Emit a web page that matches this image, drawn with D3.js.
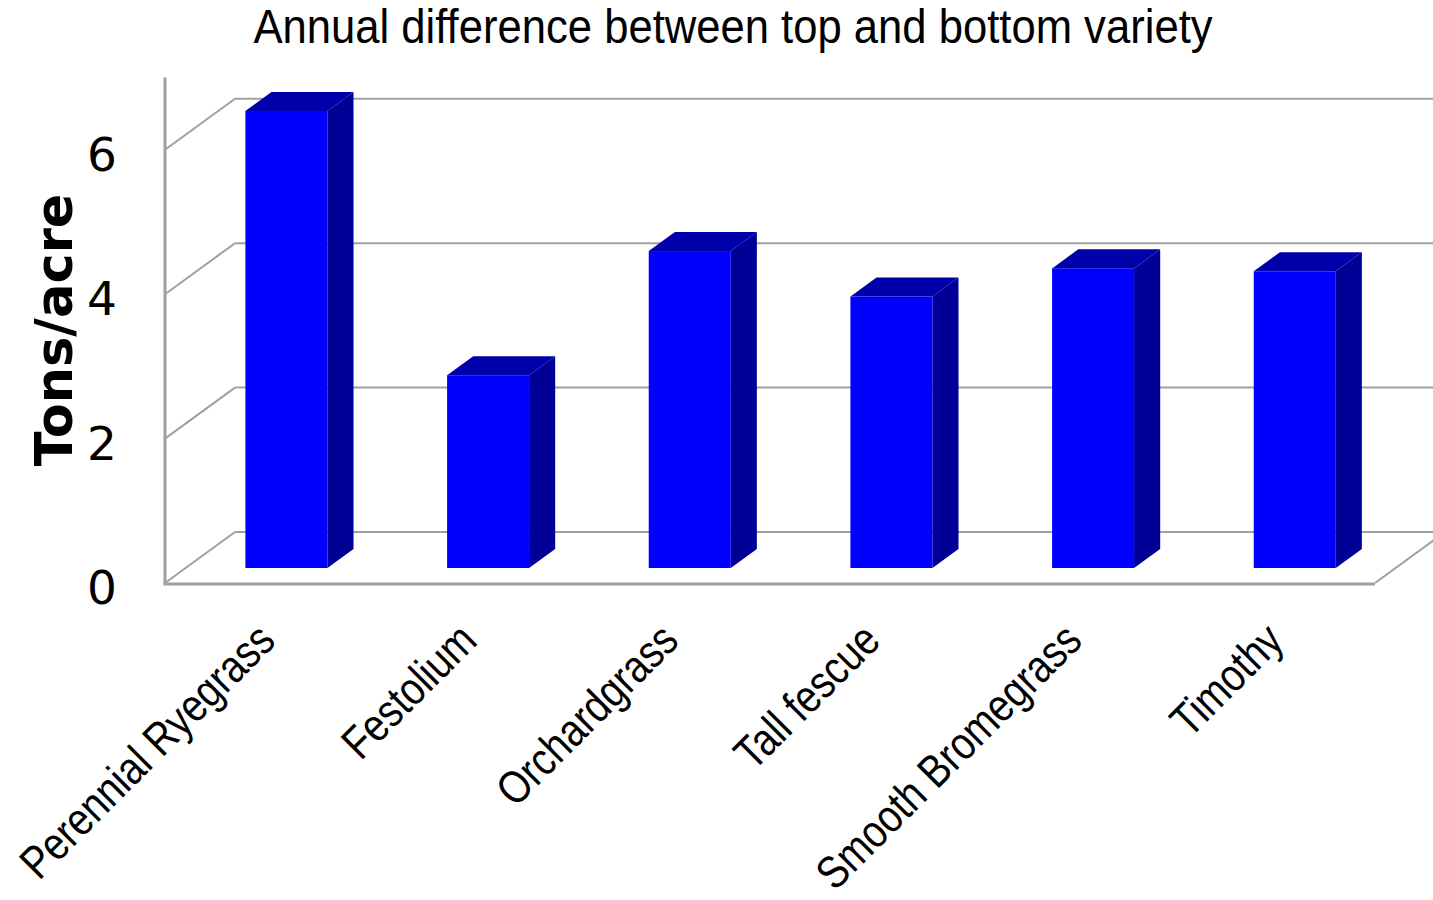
<!DOCTYPE html>
<html>
<head>
<meta charset="utf-8">
<script src="https://cdn.jsdelivr.net/npm/d3@7"></script>
<style>
  html, body { margin: 0; padding: 0; background: #fff; }
  svg { display: block; }
</style>
</head>
<body>
<svg id="chart" width="1433" height="900"></svg>
<script>
// ---- data ----
const categories = ["Perennial Ryegrass", "Festolium", "Orchardgrass", "Tall fescue", "Smooth Bromegrass", "Timothy"];
const values = [6.33, 2.67, 4.39, 3.76, 4.15, 4.11];
const yTicks = [0, 2, 4, 6];
const titleText = "Annual difference between top and bottom variety";
const yTitle = "Tons/acre";

// ---- layout ----
const W = 1433, H = 900;
const frontLeft = 165, frontRight = 1375;
const front0 = 583, frontTop = 77.6;
const depthX = 70, depthY = -51;         // full depth offset of back wall
const barF0 = 0.294, barF1 = 0.667;      // bar depth (fraction of wall depth)
const gridColor = "#a0a0a0";
const frontColor = "#0000ff", topColor = "#0000aa", sideColor = "#000096";

const svg = d3.select("#chart");

const y = d3.scaleLinear().domain([0, 7]).range([front0, frontTop]);
const x = d3.scaleBand().domain(categories).range([frontLeft, frontRight])
  .paddingInner(0.5934).paddingOuter(0.2967).align(0.5);

// back wall gridlines
const g = svg.append("g");
g.selectAll("line.grid").data(yTicks).join("line")
  .attr("class", "grid")
  .attr("x1", frontLeft + depthX).attr("x2", frontRight + depthX)
  .attr("y1", d => y(d) + depthY).attr("y2", d => y(d) + depthY)
  .attr("stroke", gridColor).attr("stroke-width", 2);
// left wall diagonals
g.selectAll("line.diag").data(yTicks).join("line")
  .attr("class", "diag")
  .attr("x1", frontLeft).attr("y1", d => y(d))
  .attr("x2", frontLeft + depthX).attr("y2", d => y(d) + depthY)
  .attr("stroke", gridColor).attr("stroke-width", 2);
// right floor diagonal
g.append("line")
  .attr("x1", frontRight).attr("y1", y(0))
  .attr("x2", frontRight + depthX).attr("y2", y(0) + depthY)
  .attr("stroke", gridColor).attr("stroke-width", 2);

// bars
const sx0 = barF0 * depthX, sy0 = barF0 * depthY;
const bdx = (barF1 - barF0) * depthX, bdy = (barF1 - barF0) * depthY;
const bw = x.bandwidth();
const bars = svg.append("g").selectAll("g").data(categories.map((c, i) => ({c, v: values[i]}))).join("g");
bars.each(function(d) {
  const gg = d3.select(this);
  const x0 = x(d.c) + sx0, x1 = x0 + bw;
  const yt = y(d.v) + sy0, yb = y(0) + sy0;
  gg.append("path")
    .attr("d", `M${x1},${yt} L${x1 + bdx},${yt + bdy} L${x1 + bdx},${yb + bdy} L${x1},${yb} Z`)
    .attr("fill", sideColor);
  gg.append("path")
    .attr("d", `M${x0},${yt} L${x0 + bdx},${yt + bdy} L${x1 + bdx},${yt + bdy} L${x1},${yt} Z`)
    .attr("fill", topColor);
  gg.append("rect")
    .attr("x", x0).attr("y", yt).attr("width", bw).attr("height", yb - yt)
    .attr("fill", frontColor);
});

// front axis lines
svg.append("line")
  .attr("x1", frontLeft).attr("x2", frontLeft)
  .attr("y1", y(7)).attr("y2", y(0) + 2)
  .attr("stroke", gridColor).attr("stroke-width", 3);
svg.append("line")
  .attr("x1", frontLeft - 1.5).attr("x2", frontRight)
  .attr("y1", y(0) + 1).attr("y2", y(0) + 1)
  .attr("stroke", gridColor).attr("stroke-width", 3);

// tick labels
svg.append("g").selectAll("text").data(yTicks).join("text")
  .attr("x", 117).attr("y", d => y(d) + 21)
  .attr("text-anchor", "end")
  .attr("font-family", "DejaVu Sans")
  .attr("font-size", 47)
  .attr("fill", "#000")
  .text(d => d);

// y title
svg.append("text")
  .attr("transform", "translate(72,330) rotate(-90)")
  .attr("text-anchor", "middle")
  .attr("font-family", "DejaVu Sans")
  .attr("font-weight", "bold")
  .attr("font-size", 51)
  .attr("fill", "#000")
  .text(yTitle);

// title
svg.append("text")
  .attr("transform", "translate(733,43) scale(0.89,1)")
  .attr("text-anchor", "middle")
  .attr("font-family", "Liberation Sans, Arial, sans-serif")
  .attr("font-size", 49)
  .attr("fill", "#000")
  .text(titleText);

// category labels
svg.append("g").selectAll("text").data(categories).join("text")
  .attr("transform", d => `translate(${x(d) + bw / 2 + sx0 - 9},643) rotate(-45) scale(0.84,1)`)
  .attr("text-anchor", "end")
  .attr("font-family", "Liberation Sans, Arial, sans-serif")
  .attr("font-size", 46)
  .attr("fill", "#000")
  .text(d => d);
</script>
</body>
</html>
